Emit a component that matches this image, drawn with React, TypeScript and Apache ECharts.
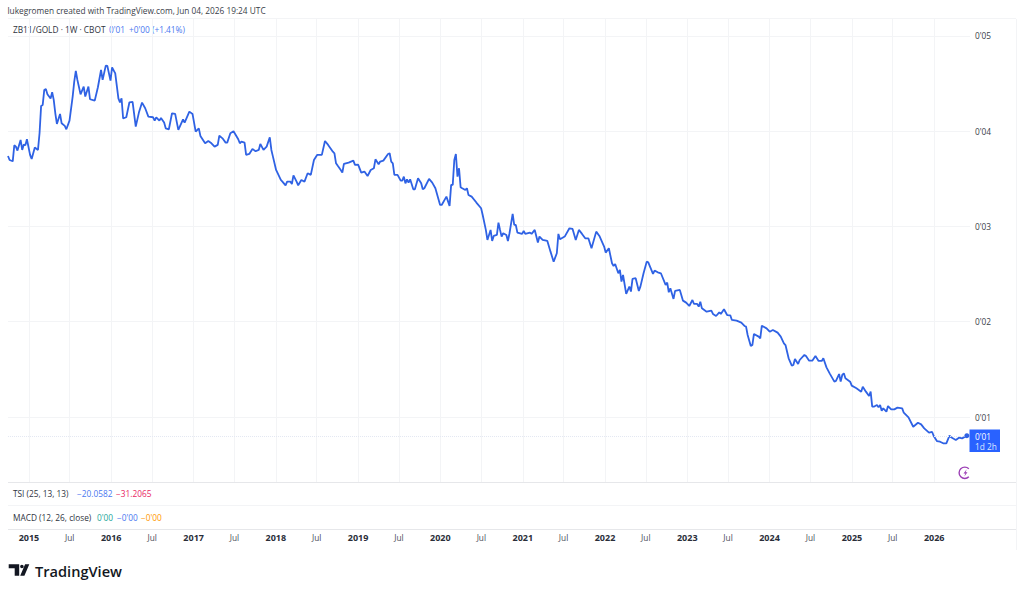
import React, { useEffect, useRef } from "react";
import * as echarts from "echarts";

const FONT = "'Open Sans', 'Noto Sans', sans-serif";

// week number since the first bar, ratio value
const weeks = [
0,1,3,4,5,6,8,9,10,11,12,14,15,17,19,20,21,22,23,24,25,27,28,29,30,31,33,34,36,37,39,41,42,43,44,46,48,49,51,52,55,57,59,60,62,63,65,66,68,70,71,72,73,75,77,79,81,83,85,87,89,92,93,94,96,97,99,100,102,104,106,108,111,112,115,117,119,121,122,125,127,129,131,133,134,136,138,139,141,143,146,147,148,150,151,153,155,157,159,160,162,164,166,167,168,170,173,174,176,177,179,180,181,183,184,186,188,190,192,194,196,199,201,203,206,207,208,209,
211,212,213,216,219,220,222,224,226,228,230,232,233,235,236,238,241,242,243,244,245,247,249,250,251,252,253,254,255,257,258,260,262,263,264,267,269,271,274,275,278,280,281,282,283,284,285,286,287,288,290,291,292,294,297,300,301,303,304,306,307,308,310,311,312,313,314,316,317,318,320,321,322,323,326,327,328,331,332,334,336,337,339,342,344,346,348,349,350,353,356,358,360,362,364,366,368,370,373,375,378,379,381,383,384,385,387,388,389,390,392,394,395,396,398,400,401,403,405,406,409,410,412,414,417,418,419,420,422,423,
426,428,430,432,434,435,437,438,439,440,443,446,447,449,451,452,454,456,458,459,462,465,467,468,469,471,472,473,476,477,478,481,483,485,488,490,492,493,495,497,498,499,501,502,505,506,508,510,512,514,516,517,519,521,524,525,527,528,529,530,531,534,535,538,541,542,544,546,547,548,549,551,552,553,554,555,557,558,560,562,564,567,568,571,574,577,579,581,584,586,587,589,591,593,595,597,598,601,603,605,608,
];
const ratio = [
3.739,3.697,3.683,3.851,3.837,3.795,3.907,3.802,3.858,3.851,3.914,3.75,3.708,3.827,3.802,3.977,4.264,4.274,4.432,4.442,4.386,4.341,4.407,4.327,4.187,4.075,4.18,4.082,4.054,4.019,4.11,4.362,4.519,4.631,4.537,4.386,4.467,4.362,4.467,4.334,4.32,4.46,4.641,4.537,4.687,4.683,4.53,4.669,4.606,4.344,4.302,4.344,4.134,4.145,4.302,4.306,4.047,4.194,4.299,4.239,4.152,4.145,4.11,4.145,4.11,4.138,4.089,4.029,4.019,4.187,4.18,4.012,4.124,4.089,4.204,4.18,3.994,4.029,3.949,3.872,3.896,3.872,3.837,3.855,3.952,3.924,3.879,3.879,3.977,3.998,3.914,3.872,3.89,3.879,3.75,3.76,3.813,3.788,3.802,3.865,3.802,3.837,3.935,3.802,3.732,3.592,3.487,3.47,3.431,3.47,3.47,3.445,3.536,3.47,3.431,3.487,3.47,3.557,3.54,3.697,3.75,3.75,3.896,3.855,3.784,3.767,3.662,3.638,
3.592,3.564,3.655,3.669,3.69,3.645,3.648,3.564,3.575,3.529,3.592,3.61,3.704,3.652,3.68,3.69,3.76,3.767,3.68,3.662,3.54,3.54,3.48,3.48,3.522,3.452,3.494,3.459,3.494,3.389,3.389,3.505,3.452,3.389,3.4,3.498,3.459,3.4,3.225,3.225,3.312,3.215,3.435,3.435,3.697,3.76,3.522,3.61,3.41,3.4,3.382,3.4,3.33,3.312,3.25,3.19,3.12,2.963,2.858,2.963,2.847,2.9,2.91,3.04,2.963,2.893,2.928,2.91,2.847,2.928,3.131,3.015,3.015,2.935,2.921,2.952,2.921,2.935,2.921,2.963,2.83,2.893,2.858,2.847,2.735,2.63,2.718,2.921,2.865,2.893,2.98,2.973,2.858,2.963,2.921,2.875,2.875,2.77,2.945,2.9,2.788,2.725,2.77,2.613,2.585,2.606,2.508,2.543,2.421,2.49,2.291,2.368,2.316,2.449,2.456,2.323,2.368,2.508,2.63,2.623,2.501,2.536,2.518,2.508,2.386,2.41,2.309,2.35,2.239,2.323,
2.333,2.221,2.2,2.165,2.228,2.186,2.186,2.158,2.21,2.14,2.105,2.116,2.081,2.06,2.098,2.081,2.13,2.07,2.067,2.018,2.011,1.99,1.955,1.948,1.86,1.745,1.755,1.871,1.843,1.825,1.958,1.93,1.895,1.913,1.885,1.843,1.773,1.755,1.616,1.539,1.546,1.609,1.556,1.598,1.651,1.64,1.591,1.591,1.64,1.588,1.588,1.616,1.521,1.458,1.371,1.378,1.451,1.371,1.441,1.458,1.406,1.371,1.329,1.301,1.266,1.318,1.266,1.22,1.266,1.108,1.108,1.126,1.101,1.126,1.066,1.091,1.056,1.115,1.08,1.08,1.098,1.091,1.045,0.996,0.898,0.94,0.923,0.881,0.836,0.843,0.801,0.748,0.741,0.724,0.724,0.804,0.787,0.759,0.783,0.776,0.804,
];

const priceTicks = [1, 2, 3, 4, 5];
const years = [2015, 2016, 2017, 2018, 2019, 2020, 2021, 2022, 2023, 2024, 2025, 2026];
const firstBar = Date.UTC(2014, 8, 30);
const lastTime = Date.UTC(2014, 8, 30) + 610 * 7 * 86400000;

const BLUE = "#2962FF";
const LINE = "#2f62e4";
const GRID = "#f3f4f6";
const RULE = "#e6e7ea";
const SOFT_BLUE = "#4a78f0";
const INK = "#2f333e";

const timeTicks: number[] = [];
years.forEach((y) => {
  timeTicks.push(Date.UTC(y, 0, 1));
  if (y < 2026) timeTicks.push(Date.UTC(y, 6, 1));
});

const LOGO_D = "M0 0H10.5V11.5H6V4H0ZM20.6 0H16.4L11.5 11.5H15.7ZM13.2 0.4A1.8 1.8 0 1 0 13.21 4A1.8 1.8 0 1 0 13.2 0.4Z";
const BOLT_D = "M3.2 0L0 4.2H1.9L0.8 7.2L4 3H2.1Z";
echarts.graphic.registerShape("tvlogo", echarts.graphic.extendPath(LOGO_D, {}) as any);
echarts.graphic.registerShape("bolt", echarts.graphic.extendPath(BOLT_D, {}) as any);

function label(text: string, x: number, y: number, fill: string, size = 8.3, weight: any = 400, align: any = "left") {
  return {
    type: "text",
    x,
    y,
    silent: true,
    style: { text, fill, font: `${weight} ${size}px ${FONT}`, align, verticalAlign: "middle" },
  };
}
function rule(x1: number, y1: number, x2: number, y2: number, stroke = RULE) {
  return { type: "line", silent: true, shape: { x1, y1, x2, y2 }, style: { stroke, lineWidth: 1 } };
}

export default function App() {
  const ref = useRef<HTMLDivElement>(null);
  useEffect(() => {
    const chart = echarts.init(ref.current!, undefined, { renderer: "svg" });
    const data = weeks.map((w, i) => [firstBar + w * 7 * 86400000, ratio[i]]);
    const last = data[data.length - 1];
    chart.setOption({
      animation: false,
      backgroundColor: "#ffffff",
      grid: { left: 8, right: 54, top: 19, bottom: 110 },
      xAxis: {
        type: "value",
        min: firstBar,
        max: lastTime,
        axisLine: { show: false },
        axisTick: { show: false, customValues: timeTicks },
        splitLine: { show: true, lineStyle: { color: GRID, width: 1 } },
        axisLabel: {
          customValues: timeTicks,
          margin: 51,
          hideOverlap: false,
          showMinLabel: true,
          showMaxLabel: true,
          formatter: (v: number) => {
            const d = new Date(v);
            return d.getUTCMonth() === 0 ? `{y|${d.getUTCFullYear()}}` : `{m|Jul}`;
          },
          rich: {
            y: { fontFamily: FONT, fontSize: 9, fontWeight: 700, color: "#2a2e39" },
            m: { fontFamily: FONT, fontSize: 8.3, color: "#4a4e59" },
          },
        },
      },
      yAxis: {
        type: "value",
        position: "right",
        min: 0.318,
        max: 5.176,
        axisLine: { show: false },
        axisTick: { show: false, customValues: priceTicks },
        splitLine: { show: true, lineStyle: { color: GRID, width: 1 } },
        axisLabel: {
          customValues: priceTicks,
          margin: 5,
          fontFamily: FONT,
          fontSize: 8.3,
          color: "#3a3e49",
          formatter: (v: number) => `0'0${v}`,
        },
      },
      series: [
        {
          type: "line",
          data,
          showSymbol: false,
          symbol: "none",
          clip: false,
          lineStyle: { color: LINE, width: 1.8 },
          emphasis: { disabled: true },
          markLine: {
            silent: true,
            symbol: "none",
            label: { show: false },
            lineStyle: { color: "#e4e8f2", type: "dotted", width: 1 },
            data: [{ yAxis: last[1] }],
          },
          markPoint: {
            silent: true,
            symbol: "circle",
            symbolSize: 5,
            itemStyle: { color: LINE },
            label: { show: false },
            data: [{ coord: last }],
          },
        },
      ],
      graphic: [
        label("lukegromen created with TradingView.com, Jun 04, 2026 19:24 UTC", 7.5, 10, "#3a3e49"),
        rule(8, 18.5, 1016, 18.5, GRID),
        rule(8, 482.5, 1016, 482.5),
        rule(8, 505.5, 1016, 505.5, GRID),
        rule(8, 529.5, 1016, 529.5),
        rule(1016.5, 19, 1016.5, 550, GRID),
        label("ZB11/GOLD · 1W · CBOT", 13, 29.5, INK),
        label("0'01", 109, 29.5, SOFT_BLUE),
        label("+0'00 (+1.41%)", 129, 29.5, SOFT_BLUE),
        label("TSI (25, 13, 13)", 13, 493, INK),
        label("−20.0582", 77, 493, SOFT_BLUE),
        label("−31.2065", 116, 493, "#e91e63"),
        label("MACD (12, 26, close)", 13, 517, INK),
        label("0'00", 97, 517, "#26a69a"),
        label("−0'00", 117, 517, SOFT_BLUE),
        label("−0'00", 141, 517, "#ff9800"),
        { type: "rect", silent: true, shape: { x: 969.5, y: 429.5, width: 30.5, height: 22.5 }, style: { fill: BLUE } },
        label("0'01", 975, 436, "#ffffff"),
        label("1d 2h", 975, 446, "#dfe7ff"),
        {
          type: "arc",
          silent: true,
          shape: { cx: 964.8, cy: 472.8, r: 5.7, startAngle: Math.PI * 0.25, endAngle: Math.PI * 1.75, clockwise: true },
          style: { stroke: "#9c3fb5", lineWidth: 1.4, fill: "none" },
        },
        { type: "bolt", silent: true, x: 963.5, y: 469.2, style: { fill: "#9c3fb5" } },
        { type: "tvlogo", silent: true, x: 8.7, y: 564.3, style: { fill: "#131722" } },
        label("TradingView", 35, 570.5, "#131722", 14.6, 600),
      ],
    });
    return () => chart.dispose();
  }, []);
  return <div ref={ref} style={{ position: "absolute", left: 0, top: 0, width: 1024, height: 592 }} />;
}
